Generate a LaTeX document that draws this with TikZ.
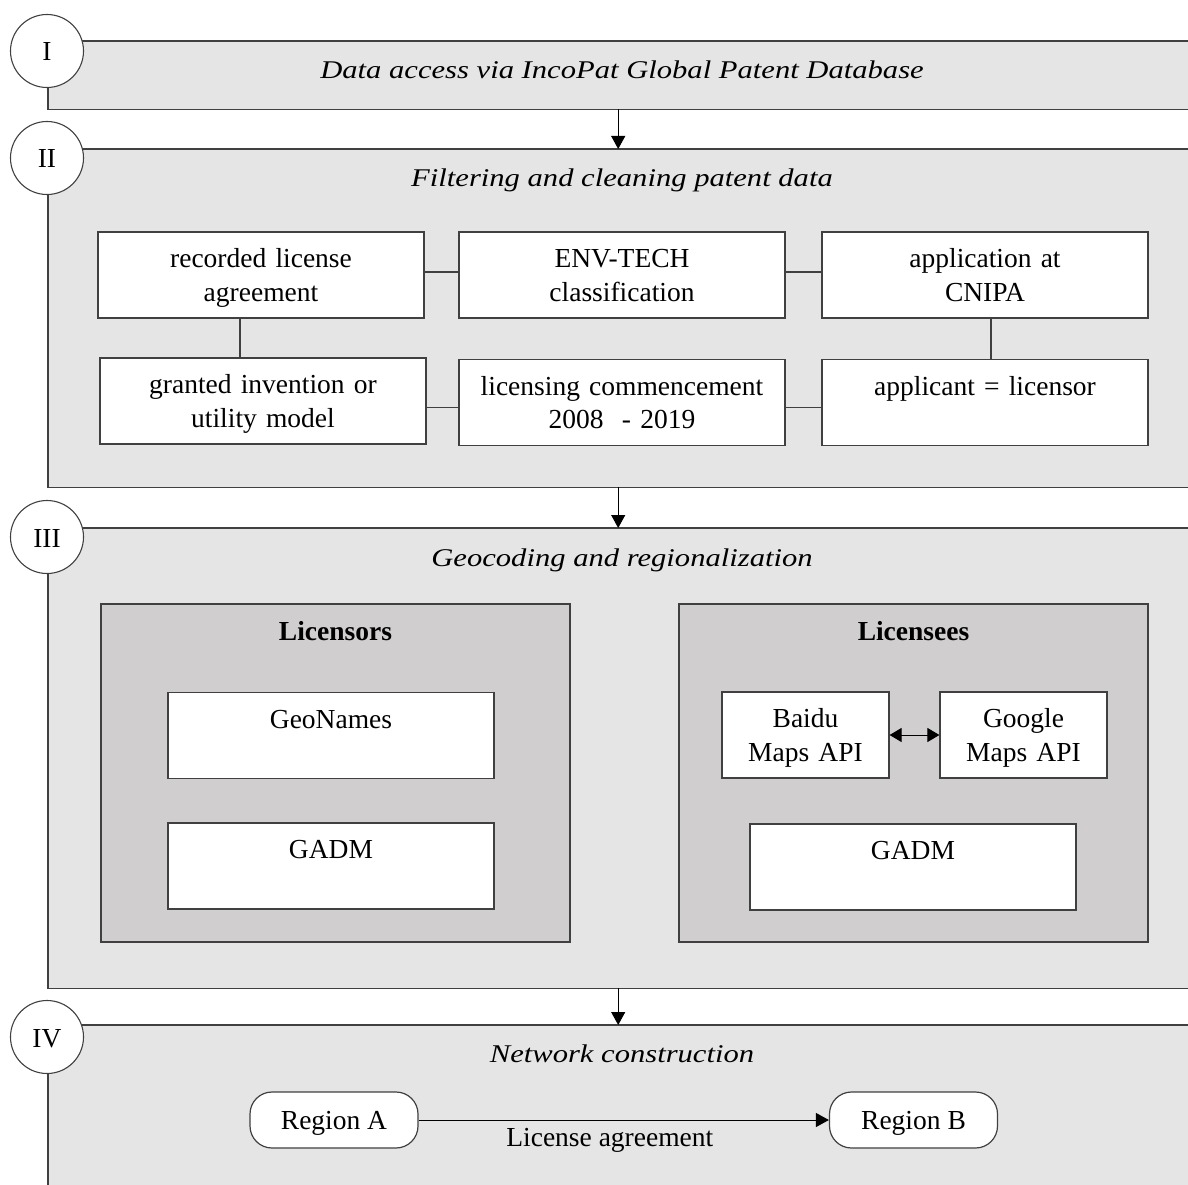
\documentclass[tikz,border=0pt]{standalone}
\usepackage{fontspec}
\setmainfont{Liberation Serif}
\newfontfamily\stagetitlefont[FakeStretch=1.2]{Liberation Serif}
\usetikzlibrary{arrows.meta}
\definecolor{panelgray}{HTML}{E5E5E5}
\definecolor{groupgray}{HTML}{D0CECF}
\definecolor{edgegray}{HTML}{404040}
% invisible struts that fix the first baseline and last depth inside boxes
\newcommand\Tfix{\rule{0pt}{28.6pt}}
\newcommand\Bfix{\rule[-10pt]{0pt}{10pt}}
\begin{document}
\begin{tikzpicture}[x=1pt,y=-1pt,
  every node/.style={font=\fontsize{27.5}{33.4}\selectfont, inner sep=0pt},
  panel/.style={fill=panelgray, minimum width=1140, anchor=north west},
  frame/.style={draw=edgegray, line width=1.2pt},
  stage/.style={circle, draw=edgegray, fill=white, line width=1.1pt, minimum size=73,
    text height=22pt, text depth=2pt},
  title/.style={font=\fontsize{25.5}{30}\stagetitlefont\itshape, anchor=base},
  heading/.style={font=\fontsize{27.5}{33.4}\selectfont\bfseries, anchor=base},
  box/.style={draw=edgegray, fill=white, line width=1.2pt, minimum width=326,
    minimum height=86, text width=316, align=center},
  smallbox/.style={box, minimum width=167, text width=160},
  group/.style={draw=edgegray, fill=groupgray, line width=1.2pt, minimum width=469, minimum height=338},
  region/.style={draw=edgegray, fill=white, line width=1.2pt, rounded corners=22,
    minimum width=168, minimum height=56, text height=24pt, text depth=6pt},
  link/.style={draw=edgegray, line width=1.2pt},
  arr/.style={draw=black, line width=1pt, -{Triangle[length=13pt,width=14pt]}},
  dbl/.style={draw=black, line width=1pt,
    {Triangle[length=12pt,width=14pt]}-{Triangle[length=12pt,width=14pt]}}
]
\useasboundingbox (0,0) rectangle (1188,1185);

% stage panels
\node[panel, minimum height=68]  (p1) at (48,41)   {};
\node[panel, minimum height=338] (p2) at (48,149)  {};
\node[panel, minimum height=460] (p3) at (48,528)  {};
\node[panel, minimum height=160] (p4) at (48,1025) {};
\draw[frame] (p1.north east) -- (p1.north west) -- (p1.south west) -- (p1.south east);
\draw[frame] (p2.north east) -- (p2.north west) -- (p2.south west) -- (p2.south east);
\draw[frame] (p3.north east) -- (p3.north west) -- (p3.south west) -- (p3.south east);
\draw[frame] (p4.north east) -- (p4.north west) -- (p4.south west);

% stage numbers
\node[stage] (s1) at (47,51)   {I};
\node[stage] (s2) at (47,158)  {II};
\node[stage] (s3) at (47,537)  {III};
\node[stage] (s4) at (47,1037) {IV};

% stage titles
\node[title] (t1) at (622,79)   {Data access via IncoPat Global Patent Database};
\node[title] (t2) at (622,187)  {Filtering and cleaning patent data};
\node[title] (t3) at (622,566)  {Geocoding and regionalization};
\node[title] (t4) at (622,1062) {Network construction};

% flow between stages
\draw[arr] (p1.south) -- (p2.north);
\draw[arr] (p2.south) -- (p3.north);
\draw[arr] (p3.south) -- (p4.north);

% II: filtering criteria
\node[box] (b1) at (261,275)   {\Tfix recorded license\\agreement\Bfix};
\node[box] (b2) at (622,275)   {\Tfix ENV-TECH\\classification\Bfix};
\node[box] (b3) at (985,275)   {\Tfix application at\\CNIPA\Bfix};
\node[box] (b4) at (263,401)   {\Tfix granted invention or\\utility model\Bfix};
\node[box] (b5) at (622,402.5) {\Tfix licensing commencement\\2008\ \ - 2019\Bfix};
\node[box] (b6) at (985,402.5) {\Tfix applicant = licensor\\\Bfix};
\draw[link] ([yshift=3pt]b1.east) -- ([yshift=3pt]b2.west);
\draw[link] ([yshift=3pt]b2.east) -- ([yshift=3pt]b3.west);
\draw[link] ([yshift=-5pt]b5.west -| b4.east) -- ([yshift=-5pt]b5.west);
\draw[link] ([yshift=-5pt]b5.east) -- ([yshift=-5pt]b6.west);
\draw[link] ([xshift=-21pt]b1.south) -- ([xshift=-21pt]b1.south |- b4.north);
\draw[link] ([xshift=6pt]b3.south) -- ([xshift=6pt]b3.south |- b6.north);

% III: geocoding sources
\node[group] (g1) at (335.5,773) {};
\node[group] (g2) at (913.5,773) {};
\node[heading] (h1) at (335.5,640) {Licensors};
\node[heading] (h2) at (913.5,640) {Licensees};
\node[box] (geo)   at (331,735.5) {\Tfix GeoNames\\\Bfix};
\node[box] (gadm1) at (331,866)   {\Tfix GADM\\\Bfix};
\node[smallbox] (baidu)  at (805.5,735)  {\Tfix Baidu\\Maps API\Bfix};
\node[smallbox] (google) at (1023.5,735) {\Tfix Google\\Maps API\Bfix};
\node[box] (gadm2) at (913,867) {\Tfix GADM\\\Bfix};
\draw[dbl] (baidu) -- (google);

% IV: network
\node[region] (ra) at (334,1120)   {Region A};
\node[region] (rb) at (913.5,1120) {Region B};
\draw[arr] (ra) -- (rb) node[pos=0.466, anchor=base, yshift=-26pt] {License agreement};
\end{tikzpicture}
\end{document}
